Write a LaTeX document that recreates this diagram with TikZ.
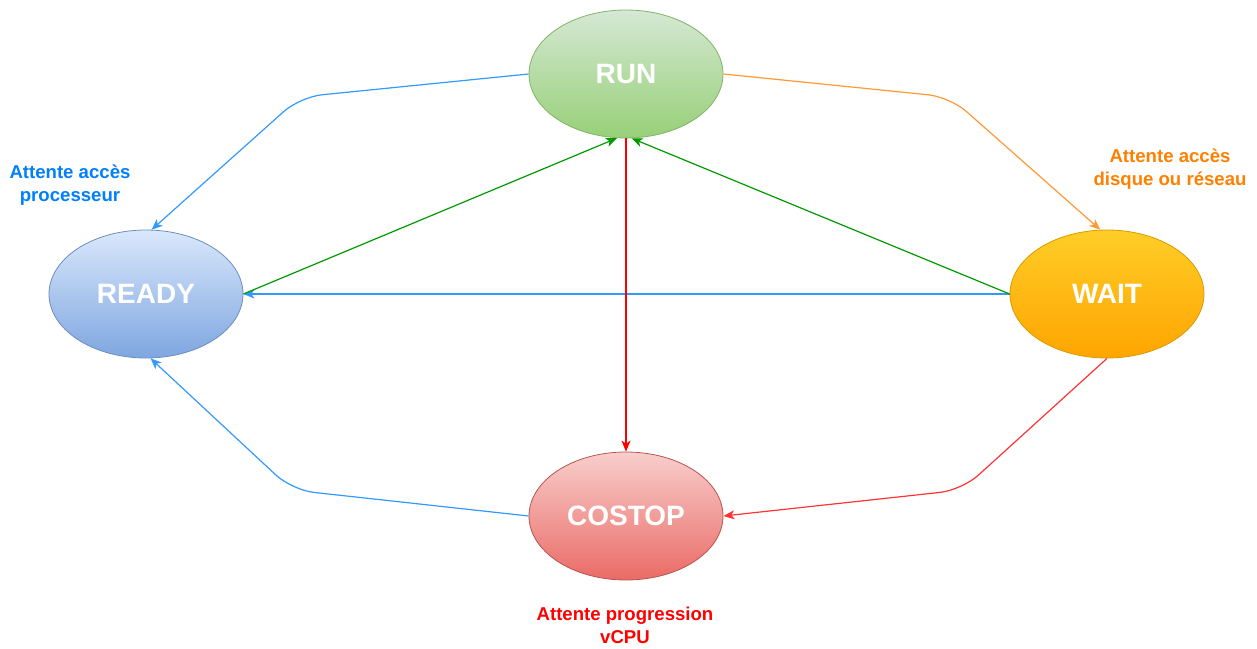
\documentclass[tikz,border=0pt]{standalone}
\usepackage{fontspec}
\setmainfont{Liberation Sans}
\usetikzlibrary{shapes.geometric,arrows.meta}

% state fills (top / bottom / outline)
\definecolor{runTop}{HTML}{D5E8D4}\definecolor{runBot}{HTML}{97D077}\definecolor{runLine}{HTML}{82B366}
\definecolor{rdyTop}{HTML}{DAE8FC}\definecolor{rdyBot}{HTML}{7EA6E0}\definecolor{rdyLine}{HTML}{6C8EBF}
\definecolor{wtTop}{HTML}{FFCD28}\definecolor{wtBot}{HTML}{FFA500}\definecolor{wtLine}{HTML}{D79B00}
\definecolor{csTop}{HTML}{F8CECC}\definecolor{csBot}{HTML}{EA6B66}\definecolor{csLine}{HTML}{B85450}
% connector colours
\definecolor{lnBlue}{HTML}{3399FF}
\definecolor{lnOrange}{HTML}{FF9933}
\definecolor{lnRed}{HTML}{FF3333}
\definecolor{lnRedV}{HTML}{FF0000}
\definecolor{lnGreen}{HTML}{009900}
% label colours
\definecolor{txBlue}{HTML}{007FFF}
\definecolor{txOrange}{HTML}{FF8000}
\definecolor{txRed}{HTML}{FF0000}

\begin{document}
\begin{tikzpicture}[x=1pt,y=-1pt,
  state/.style={ellipse, minimum width=194pt, minimum height=128pt, inner sep=0pt,
    line width=0.8pt, font=\bfseries\fontsize{28}{30}\selectfont, text=white},
  link/.style={line width=1.2pt, -{Stealth[length=11pt,width=9pt,inset=3pt]}},
  bent/.style={link, rounded corners=22pt},
  note/.style={align=center, font=\bfseries\fontsize{18.6}{23}\selectfont}]

\useasboundingbox (0,0) rectangle (1257,648);

% the four states
\node[state, draw=runLine, top color=runTop, bottom color=runBot] (RUN) at (626,74) {RUN};
\node[state, draw=rdyLine, top color=rdyTop, bottom color=rdyBot] (READY) at (146,294) {READY};
\node[state, draw=wtLine, top color=wtTop, bottom color=wtBot] (WAIT) at (1107,294) {WAIT};
\node[state, draw=csLine, top color=csTop, bottom color=csBot] (COSTOP) at (626,516) {COSTOP};

% bend points of the outer transitions
\coordinate (bRunReady) at (300,97);
\coordinate (bRunWait) at (950,97);
\coordinate (bWaitCostop) at (962,490);
\coordinate (bCostopReady) at (292,490);

% outer transitions
\draw[bent, lnBlue] (RUN.west) -- (bRunReady) -- (READY.85);
\draw[bent, lnOrange] (RUN.east) -- (bRunWait) -- (WAIT.96);
\draw[bent, lnRed] (WAIT.270) -- (bWaitCostop) -- (COSTOP.east);
\draw[bent, lnBlue] (COSTOP.west) -- (bCostopReady) -- (READY.274);

% inner transitions
\draw[link, lnBlue] (WAIT.west) -- (READY.east);
\draw[link, lnGreen] (READY.east) -- (RUN.262);
\draw[link, lnGreen] (WAIT.west) -- (RUN.275);
\draw[link, lnRedV] (RUN.south) -- (COSTOP.north);

% waiting reasons
\node[note, text=txBlue] (noteReady) at (70,185) {Attente accès\\processeur};
\node[note, text=txOrange] (noteWait) at (1170,169) {Attente accès\\disque ou réseau};
\node[note, text=txRed] (noteCostop) at (625,625) {Attente progression\\vCPU};
\end{tikzpicture}
\end{document}
